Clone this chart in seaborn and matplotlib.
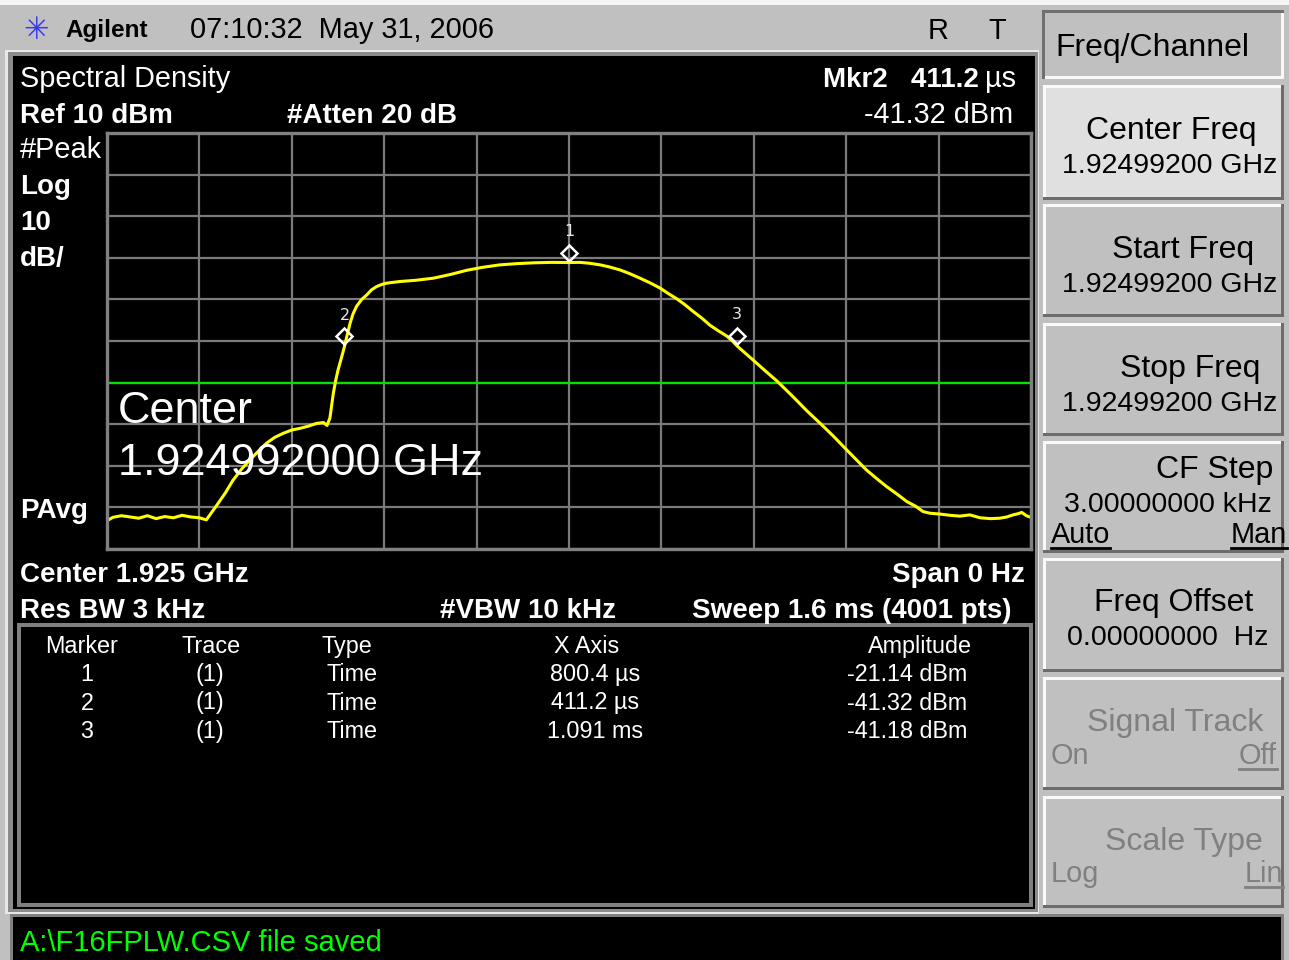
import numpy as np
import pandas as pd
import matplotlib
matplotlib.use("Agg")
import matplotlib.pyplot as plt
import seaborn as sns
from matplotlib.patches import Rectangle
from matplotlib.lines import Line2D
from matplotlib.transforms import offset_copy

plt.rcParams['font.family'] = ['Liberation Sans', 'DejaVu Sans']

# trace 1, zero span sweep (time in us, level in dBm)
time_us = [0, 10, 25, 40, 55, 70, 85, 100, 115, 130, 145, 160, 172,
           190, 205, 218, 233, 248, 262, 276, 290, 305, 320, 334, 348, 363, 375, 381,
           386, 389, 392, 396, 400, 404, 408, 411.2, 416, 421, 426, 432, 441, 450,
           458, 467, 476, 484, 507, 535, 565, 595, 623, 650, 680, 710, 740, 770,
           800.4, 819, 835, 854, 870, 888, 905, 923, 940, 958, 972, 986, 1000, 1015,
           1030, 1044, 1058, 1073, 1083, 1091, 1105, 1119, 1140, 1160, 1188, 1212,
           1235, 1258, 1281, 1298, 1315, 1333, 1350, 1368, 1385, 1400, 1413, 1425,
           1442, 1460, 1477, 1494, 1512, 1530, 1546, 1558, 1569, 1578, 1584, 1592, 1600]
level_dbm = [-83.2, -82.4, -82.0, -82.3, -82.6, -82.0, -82.7, -82.2, -82.5, -81.9, -82.3, -82.5, -83.0,
             -79.5, -76.5, -73.5, -70.8, -68.5, -66.5, -64.6, -63.2, -62.2, -61.4, -61.0, -60.5, -59.8, -59.6, -60.3,
             -58.5, -55.5, -52.5, -49.5, -47.0, -45.0, -43.0, -41.32, -38.5, -35.7, -33.5, -31.7, -30.0, -28.9,
             -27.7, -26.9, -26.4, -26.1, -25.7, -25.4, -24.9, -24.0, -23.0, -22.3, -21.7, -21.4, -21.2, -21.1,
             -21.14, -21.1, -21.3, -21.7, -22.2, -22.9, -23.8, -24.9, -26.0, -27.3, -28.6, -29.8, -31.2, -32.9,
             -34.5, -36.2, -37.5, -38.8, -40.0, -41.18, -42.9, -44.6, -47.2, -49.6, -53.4, -56.8,
             -59.8, -62.9, -66.2, -68.6, -71.0, -73.1, -75.0, -76.8, -78.6, -79.7, -81.0, -81.4,
             -81.6, -81.9, -82.1, -81.8, -82.5, -82.7, -82.6, -82.3, -81.8, -81.5, -81.2, -82.0, -82.4]

# markers
marker_num = [1, 2, 3]
marker_t = [800.4, 411.2, 1091.0]
marker_amp = [-21.14, -41.32, -41.18]
active_marker = 2

ref_level = 10
db_per_div = 10
display_line = -50
sweep_us = 1600

softkey_titles = ["Center Freq", "Start Freq", "Stop Freq", "CF Step", "Freq Offset", "Signal Track", "Scale Type"]
softkey_values = ["1.92499200 GHz", "1.92499200 GHz", "1.92499200 GHz", "3.00000000 kHz", "0.00000000  Hz", "", ""]

W, H = 1289, 960
fig = plt.figure(figsize=(W / 100, H / 100), dpi=100)
fig.patch.set_facecolor('#c0c0c0')


def fx(x):
    return x / W


def fy(y):
    return 1 - y / H


def box(x0, y0, x1, y1, color):
    fig.add_artist(Rectangle((fx(x0), fy(y1)), (x1 - x0) / W, (y1 - y0) / H,
                             transform=fig.transFigure, facecolor=color,
                             edgecolor='none', zorder=-5))


def label(x, y, s, size=20.8, bold=False, ha='left', color='white', **kw):
    return fig.text(fx(x), fy(y), s, fontsize=size, ha=ha, va='baseline', color=color,
                    fontweight='bold' if bold else 'normal', **kw)


# ---- frame pieces ----
box(0, 0, W, 5, '#f4f4f4')
box(5, 50, 1039, 914, '#e8e8e8')
box(8, 52, 1038, 912, '#8c8c8c')
box(13, 56, 1035, 909, 'black')
box(17, 623, 1033, 907, '#808080')
box(21, 627, 1029, 903, 'black')
box(10, 914, 1284, 960, '#808080')
box(13, 917, 1281, 960, 'black')

# title bar
label(36, 39, "\u2733", size=22, color='#3b3bf0', ha='center', family='DejaVu Sans')
label(65, 37, "Agilent", size=17.5, bold=True, color='black')
label(190, 38, "07:10:32  May 31, 2006", color='black')
label(938, 39, "R", color='black', ha='center')
label(997, 39, "T", color='black', ha='center')

# softkeys
box(1042, 10, 1284, 79, '#707070')
box(1045, 13, 1284, 79, '#f8f8f8')
box(1045, 13, 1281, 76, '#c0c0c0')
label(1055, 56, "Freq/Channel", size=23, color='black')

key_top = [85, 204, 323, 441, 558, 677, 796]
key_bot = [200, 317, 436, 553, 672, 790, 908]
title_right = [1256, 1254, 1260, 1273, 1253, 1263, 1263]
title_base = [139, 258, 377, 478, 611, 731, 850]
value_right = [1277, 1277, 1277, 1272, 1268]
for i, title in enumerate(softkey_titles):
    y0, y1 = key_top[i], key_bot[i]
    box(1043, y0, 1284, y1, '#6c6c6c')
    box(1043, y0, 1281, y1 - 3, '#fafafa')
    box(1046, y0 + 3, 1281, y1 - 3, '#e0e0e0' if i == 0 else '#c0c0c0')
    col = 'black' if i < 5 else '#808080'
    label(title_right[i], title_base[i], title, size=23, color=col, ha='right')
    if softkey_values[i]:
        label(value_right[i], title_base[i] + 34, softkey_values[i], size=20.5,
              color=col, ha='right')

underlined = []
underlined.append((label(1051, 543, "Auto", color='black'), 543))
underlined.append((label(1287, 543, "Man", color='black', ha='right'), 543))
label(1051, 764, "On", color='#808080')
underlined.append((label(1277, 764, "Off", color='#808080', ha='right'), 764))
label(1051, 882, "Log", color='#808080')
underlined.append((label(1283, 882, "Lin", color='#808080', ha='right'), 882))

# screen annotations
label(20, 87, "Spectral Density")
label(20, 123, f"Ref {ref_level} dBm", size=20, bold=True)
label(287, 123, "#Atten 20 dB", size=20, bold=True)
i2 = marker_num.index(active_marker)
label(979, 87, f"Mkr{active_marker}   {marker_t[i2]:.1f}", size=20, bold=True, ha='right')
label(985, 87, "\u00b5s")
label(1013, 123, f"{marker_amp[i2]:.2f} dBm", ha='right')
label(20, 158, "#Peak")
label(20, 194, "Log", size=20, bold=True)
label(20, 230, f"{db_per_div}", size=20, bold=True)
label(20, 266, "dB/", size=20, bold=True)
label(20, 518, "PAvg", size=20, bold=True)
label(20, 582, "Center 1.925 GHz", size=20, bold=True)
label(1025, 582, "Span 0 Hz", size=20, bold=True, ha='right')
label(20, 618, "Res BW 3 kHz", size=20, bold=True)
label(440, 618, "#VBW 10 kHz", size=20, bold=True)
label(1011, 618, f"Sweep {sweep_us / 1000:.1f} ms (4001 pts)", size=20, bold=True, ha='right')

# marker table
cols = [82, 211, 347, 587, 920]
for cx, h in zip(cols, ["Marker", "Trace", "Type", "X Axis", "Amplitude"]):
    label(cx, 653, h, size=16.8, ha='center')
for r, (n, t, a) in enumerate(zip(marker_num, marker_t, marker_amp)):
    yb = 681 + r * 28.5
    xs = f"{t:.1f} \u00b5s" if t < 1000 else f"{t / 1000:.3f} ms"
    label(87, yb, str(n), size=16.8, ha='center')
    label(210, yb, "(1)", size=16.8, ha='center')
    label(352, yb, "Time", size=16.8, ha='center')
    label(595, yb, xs, size=16.8, ha='center')
    label(907, yb, f"{a:.2f} dBm", size=16.8, ha='center')

label(20, 951, "A:\\F16FPLW.CSV file saved", size=21, color='#00ff00')

# ---- graticule ----
ax = fig.add_axes([fx(107), fy(549), 924 / W, 416 / H])
ax.set_facecolor('black')
df = pd.DataFrame({"t": time_us, "dbm": level_dbm})
sns.lineplot(data=df, x="t", y="dbm", ax=ax, color='#ffff00', lw=2.2, estimator=None, sort=False)
ax.axhline(display_line, color='#00e400', lw=1.6, zorder=1)
ax.set_xlim(0, sweep_us)
ax.set_ylim(ref_level - 10 * db_per_div, ref_level)
ax.set_xticks(np.arange(0, sweep_us + 1, sweep_us / 10))
ax.set_yticks(np.arange(ref_level - 10 * db_per_div, ref_level + 1, db_per_div))
ax.grid(True, color='#7a7a7a', lw=1.6)
ax.set_axisbelow(True)
ax.tick_params(length=0, labelbottom=False, labelleft=False)
ax.set_xlabel("")
ax.set_ylabel("")
for sp in ax.spines.values():
    sp.set_color('#808080')
    sp.set_linewidth(2.4)

dia = offset_copy(ax.transData, fig=fig, y=10, units='dots')
ax.plot(marker_t, marker_amp, ls='none', marker='D', ms=8, mfc='none', mec='white',
        mew=1.8, transform=dia, zorder=5)
num = offset_copy(ax.transData, fig=fig, y=31, units='dots')
for n, t, a in zip(marker_num, marker_t, marker_amp):
    ax.text(t, a, str(n), transform=num, ha='center', va='center', color='#e8e8e8',
            fontsize=11.5, family='DejaVu Sans', zorder=5)

label(118, 423, "Center", size=32.4)
label(118, 475, "1.924992000 GHz", size=32.4)

# underlines for the selected softkey states
fig.canvas.draw()
r = fig.canvas.get_renderer()
for t, yb in underlined:
    bb = t.get_window_extent(r)
    fig.add_artist(Line2D([bb.x0 / W, bb.x1 / W], [fy(yb + 5)] * 2, transform=fig.transFigure,
                          color=t.get_color(), lw=2))

fig.savefig("out.png", dpi=100, facecolor=fig.get_facecolor())
